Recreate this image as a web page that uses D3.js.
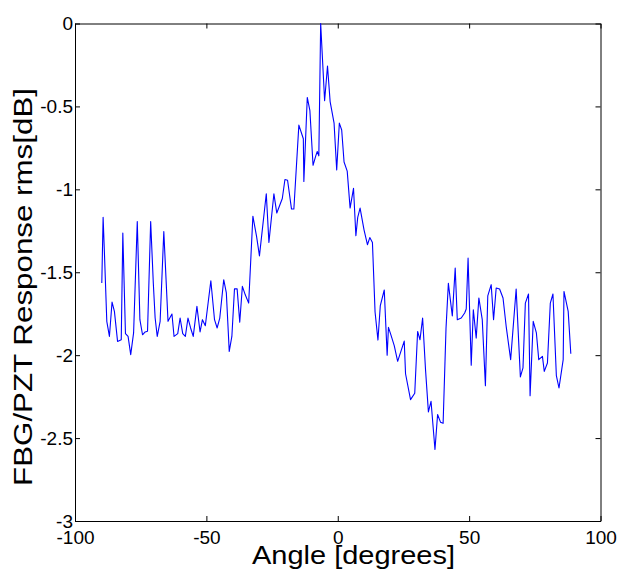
<!DOCTYPE html>
<html>
<head>
<meta charset="utf-8">
<script src="https://cdn.jsdelivr.net/npm/d3@7"></script>
<style>
  body { margin: 0; background: #fff; }
  text { font-family: "Liberation Sans", Arial, sans-serif; fill: #000; }
</style>
</head>
<body>
<div id="chart"></div>
<script>
// angle in degrees, response in dB
const angles = [
  -89.8, -89.3, -88.8, -87.9, -86.9, -85.9, -85.0, -83.8, -82.4, -81.8,
  -80.8, -79.8, -78.8, -77.7, -76.3, -75.3, -74.3, -73.3, -72.4, -71.2,
  -70.2, -69.5, -68.7, -67.6, -66.2, -64.6, -63.1, -62.3, -60.9, -60.0,
  -59.0, -58.0, -57.0, -56.0, -55.0, -53.6, -52.4, -51.5, -50.4, -48.3,
  -46.9, -45.9, -44.9, -43.4, -42.4, -41.3, -40.3, -39.3, -38.3, -37.3,
  -36.3, -35.2, -33.9, -32.3, -30.9, -29.8, -27.2, -26.2, -24.3, -23.2,
  -21.1, -20.1, -19.1, -17.6, -16.7, -14.8, -13.1, -12.9, -11.6, -10.6,
  -9.4, -8.4, -7.8, -7.2, -6.5, -5.0, -3.9, -2.9, -1.4, -0.4,
  0.6, 1.5, 2.4, 3.6, 4.7, 6.0, 6.9, 7.6, 8.5, 10.0,
  11.3, 12.2, 13.2, 14.2, 15.3, 16.2, 17.7, 18.8, 19.3, 20.2,
  21.5, 22.8, 25.3, 25.8, 27.7, 29.3, 30.4, 31.3, 32.3, 33.4,
  34.5, 35.5, 37.0, 38.0, 39.1, 40.1, 41.2, 42.1, 43.6, 44.7,
  45.5, 47.0, 48.3, 48.9, 49.6, 50.8, 51.6, 52.7, 53.7, 55.0,
  56.2, 57.1, 58.4, 59.3, 60.3, 61.6, 62.9, 64.1, 65.8, 67.9,
  69.5, 70.5, 71.4, 72.6, 73.2, 74.4, 75.6, 76.5, 77.9, 78.6,
  79.8, 80.9, 81.9, 83.2, 84.2, 85.8, 86.1, 87.7, 88.7
];
const response = [
  -1.565, -1.168, -1.384, -1.796, -1.887, -1.680, -1.736, -1.917, -1.907, -1.264,
  -1.870, -1.887, -1.997, -1.866, -1.194, -1.786, -1.877, -1.860, -1.856, -1.194,
  -1.565, -1.776, -1.887, -1.796, -1.254, -1.796, -1.752, -1.887, -1.870, -1.776,
  -1.870, -1.887, -1.776, -1.836, -1.887, -1.706, -1.860, -1.786, -1.822, -1.551,
  -1.786, -1.836, -1.776, -1.545, -1.625, -1.977, -1.887, -1.600, -1.600, -1.801,
  -1.585, -1.636, -1.686, -1.162, -1.284, -1.401, -1.027, -1.320, -1.027, -1.143,
  -1.055, -0.941, -0.945, -1.119, -1.119, -0.613, -0.695, -0.953, -0.446, -0.526,
  -0.855, -0.800, -0.772, -0.798, 0.000, -0.466, -0.256, -0.471, -0.601, -0.883,
  -0.601, -0.642, -0.835, -0.890, -1.113, -0.994, -1.280, -1.169, -1.113, -1.244,
  -1.334, -1.291, -1.320, -1.740, -1.909, -1.701, -1.607, -2.000, -1.832, -1.876,
  -1.942, -2.037, -1.915, -2.112, -2.268, -2.230, -1.857, -1.907, -1.776, -2.087,
  -2.342, -2.278, -2.569, -2.358, -2.404, -2.411, -1.840, -1.567, -1.764, -1.475,
  -1.786, -1.776, -1.746, -1.722, -1.415, -2.060, -1.726, -1.897, -1.655, -1.786,
  -2.184, -1.642, -1.575, -1.786, -1.595, -1.601, -1.655, -1.826, -2.027, -1.601,
  -2.131, -2.077, -1.686, -1.631, -2.244, -1.796, -1.866, -2.027, -2.007, -2.098,
  -2.047, -1.686, -1.631, -2.123, -2.198, -2.027, -1.616, -1.736, -1.991
];
const xTicks = [-100, -50, 0, 50, 100];
const yTicks = [0, -0.5, -1, -1.5, -2, -2.5, -3];

let margin = {top: 23.5, right: 24.5, bottom: 59, left: 75},
    width = 625 - margin.left - margin.right,
    height = 580 - margin.top - margin.bottom;

let svg = d3.select("#chart")
  .append("svg")
    .attr("width", 625)
    .attr("height", 580)
  .append("g")
    .attr("transform", "translate(" + margin.left + "," + margin.top + ")");

let x = d3.scaleLinear().domain([-100, 100]).range([0, width]);
let y = d3.scaleLinear().domain([-3, 0]).range([height, 0]);

// axes with inward ticks on all four sides
const styleAxis = g => {
  g.select(".domain").attr("stroke", "#000").attr("stroke-width", 1);
  g.selectAll(".tick line").attr("stroke", "#000");
  g.selectAll("text").style("font-size", "19px").attr("fill", "#000");
};

svg.append("g")
  .attr("transform", "translate(0," + height + ")")
  .call(d3.axisBottom(x).tickValues(xTicks).tickSizeInner(-5).tickSizeOuter(0)
    .tickPadding(10).tickFormat(d => String(d)))
  .call(styleAxis);

svg.append("g")
  .call(d3.axisTop(x).tickValues(xTicks).tickSizeInner(-5).tickSizeOuter(0).tickFormat(""))
  .call(styleAxis);

svg.append("g")
  .call(d3.axisLeft(y).tickValues(yTicks).tickSizeInner(-5).tickSizeOuter(0)
    .tickPadding(2).tickFormat(d => String(d)))
  .call(styleAxis);

svg.append("g")
  .attr("transform", "translate(" + width + ",0)")
  .call(d3.axisRight(y).tickValues(yTicks).tickSizeInner(-5).tickSizeOuter(0).tickFormat(""))
  .call(styleAxis);

// the response curve
let points = angles.map((a, i) => [a, response[i]]);
svg.append("path")
  .datum(points)
  .attr("fill", "none")
  .attr("stroke", "#0000ff")
  .attr("stroke-width", 1.1)
  .attr("stroke-linejoin", "round")
  .attr("d", d3.line().x(d => x(d[0])).y(d => y(d[1])));

// X label
svg.append("text")
  .attr("text-anchor", "middle")
  .attr("x", 353.5 - margin.left)
  .attr("y", 563.5 - margin.top)
  .attr("textLength", 203)
  .attr("lengthAdjust", "spacingAndGlyphs")
  .style("font-size", "25px")
  .text("Angle [degrees]");

// Y label
svg.append("text")
  .attr("text-anchor", "middle")
  .attr("transform", "translate(" + (32 - margin.left) + "," + (287 - margin.top) + ")rotate(-90)")
  .attr("textLength", 398)
  .attr("lengthAdjust", "spacingAndGlyphs")
  .style("font-size", "25px")
  .text("FBG/PZT Response rms[dB]");
</script>
</body>
</html>
